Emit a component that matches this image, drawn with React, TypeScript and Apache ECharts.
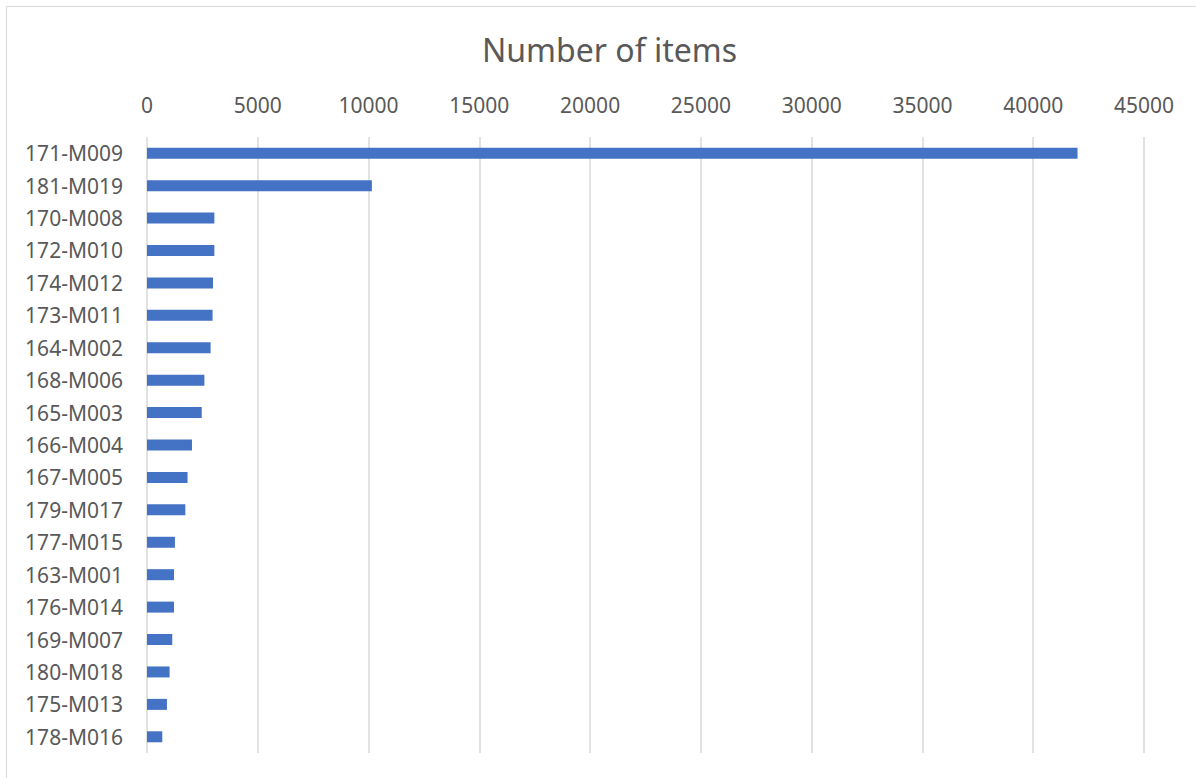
import React, { useEffect, useRef } from "react";
import * as echarts from "echarts";

const categories = [
  "171-M009", "181-M019", "170-M008", "172-M010", "174-M012", "173-M011",
  "164-M002", "168-M006", "165-M003", "166-M004", "167-M005", "179-M017",
  "177-M015", "163-M001", "176-M014", "169-M007", "180-M018", "175-M013", "178-M016",
];
const values = [
  42000, 10150, 3040, 3040, 2980, 2960, 2870, 2590, 2470, 2030, 1830, 1730,
  1260, 1220, 1220, 1140, 1020, 900, 690,
];
const titleText = "Number of items";

export default function App() {
  const ref = useRef<HTMLDivElement>(null);
  useEffect(() => {
    if (!ref.current) return;
    const chart = echarts.init(ref.current, null, { renderer: "svg" });
    const font = "'Noto Sans', sans-serif";
    chart.setOption({
      animation: false,
      backgroundColor: "#ffffff",
      title: {
        text: titleText,
        left: 477,
        top: 28,
        textStyle: { fontFamily: font, fontSize: 32, fontWeight: "normal", color: "#595959" },
      },
      graphic: [
        {
          type: "rect",
          shape: { x: 6.5, y: 6.5, width: 1200, height: 800 },
          style: { fill: "none", stroke: "#d9d9d9", lineWidth: 1 },
          silent: true,
        },
      ],
      grid: { left: 147, right: 52, top: 137, bottom: 25, containLabel: false },
      xAxis: {
        type: "value",
        position: "top",
        min: 0,
        max: 45000,
        interval: 5000,
        axisLine: { show: false },
        axisTick: { show: false },
        axisLabel: {
          fontFamily: font,
          fontSize: 21,
          color: "#595959",
          margin: 22,
          formatter: (v: number) => String(v),
        },
        splitLine: { show: true, lineStyle: { color: "#d9d9d9", width: 1.5 } },
      },
      yAxis: {
        type: "category",
        data: categories,
        inverse: true,
        axisLine: { show: false },
        axisTick: { show: false },
        axisLabel: { fontFamily: font, fontSize: 21, color: "#595959", margin: 24 },
      },
      series: [
        {
          type: "bar",
          data: values,
          barWidth: 11,
          itemStyle: { color: "#4472c4" },
        },
      ],
    });
    return () => chart.dispose();
  }, []);
  return (
    <div
      ref={ref}
      style={{ position: "absolute", left: 0, top: 0, width: 1196, height: 778 }}
    />
  );
}
